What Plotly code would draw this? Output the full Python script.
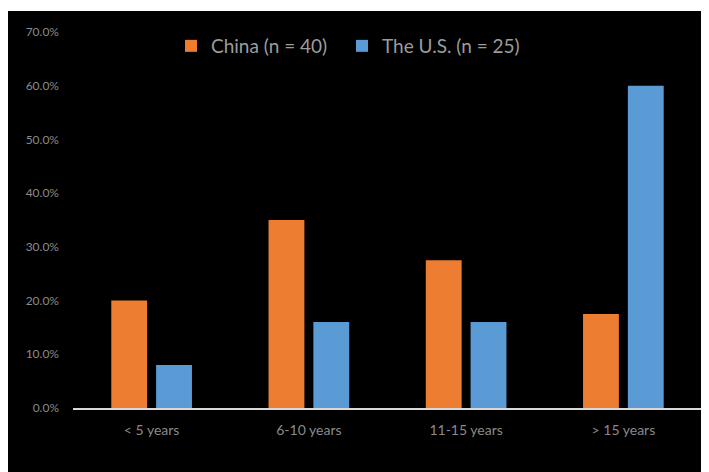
import plotly.graph_objects as go

categories = ["< 5 years", "6-10 years", "11-15 years", "> 15 years"]
china_values = [0.20, 0.35, 0.275, 0.175]
us_values = [0.08, 0.16, 0.16, 0.60]
series_names = ["China (n = 40)", "The U.S. (n = 25)"]
y_ticks = [0, 0.1, 0.2, 0.3, 0.4, 0.5, 0.6, 0.7]

W, H = 709, 472
OFF = 8  # page body margin offset
ML, MR, MT, MB = 73 - OFF, 15, 32 - OFF, 72
PW, PH = W - ML - MR, H - MT - MB

def px_x(x):
    return (x - OFF - ML) / PW

def px_y(y):
    return (H - MB - (y - OFF)) / PH

FONT = "Lato, Open Sans, sans-serif"

fig = go.Figure()
fig.add_trace(go.Bar(x=categories, y=china_values, name=series_names[0],
                     marker=dict(color="#ED7D31", line=dict(width=0)), legend="legend"))
fig.add_trace(go.Bar(x=categories, y=us_values, name=series_names[1],
                     marker=dict(color="#5B9BD5", line=dict(width=0)), legend="legend2"))

legend_style = dict(orientation="h", xanchor="left", yanchor="top",
                    font=dict(family=FONT, size=19, color="#9c9c9c"),
                    bgcolor="rgba(0,0,0,0)", itemwidth=30)

fig.update_layout(
    width=W, height=H,
    margin=dict(l=ML, r=MR, t=MT, b=MB, pad=0),
    paper_bgcolor="white",
    plot_bgcolor="black",
    barmode="group",
    bargap=0.43,
    bargroupgap=0.2,
    showlegend=True,
    legend=dict(x=px_x(171), y=px_y(27), **legend_style),
    legend2=dict(x=px_x(342), y=px_y(27), **legend_style),
    shapes=[dict(type="rect", xref="paper", yref="paper", layer="below",
                 x0=px_x(0), x1=px_x(W + 20), y0=px_y(H + 20), y1=px_y(11),
                 fillcolor="black", line=dict(width=0))],
)
fig.update_xaxes(showline=True, linecolor="#d9d9d9", linewidth=2, showgrid=False,
                 tickfont=dict(family=FONT, size=14, color="#8a8a8a"),
                 ticks="", ticklabelstandoff=8, zeroline=False)
fig.update_yaxes(range=[0, 0.7], tickvals=y_ticks, tickformat=".1%", showgrid=False,
                 zeroline=False, showline=False, ticks="",
                 tickfont=dict(family=FONT, size=12, color="#8a8a8a"),
                 ticklabelstandoff=13)

fig.write_html("out.html")
